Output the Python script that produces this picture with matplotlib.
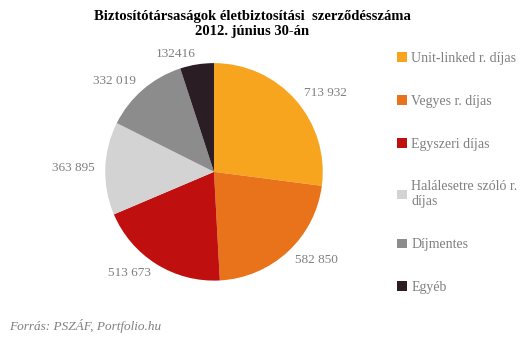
import matplotlib
matplotlib.use("Agg")
from matplotlib import pyplot as plt

categories = ["Unit-linked r. díjas", "Vegyes r. díjas", "Egyszeri díjas",
              "Halálesetre szóló r.\ndíjas", "Díjmentes", "Egyéb"]
values = [713932, 582850, 513673, 363895, 332019, 132416]
value_labels = ["713 932", "582 850", "513 673", "363 895", "332 019", "132416"]
colors = ["#F7A51E", "#E8731A", "#C00F0F", "#D3D3D3", "#8C8C8C", "#2B1D24"]

plt.rcParams['font.family'] = ['Liberation Serif', 'DejaVu Serif']

fig = plt.figure(figsize=(5.31, 3.42), dpi=100)
ax = fig.add_axes([0.147, 0.1, 0.512, 0.795])

wedges, texts = ax.pie(values, labels=value_labels, colors=colors, startangle=90,
                       counterclock=False, labeldistance=1.1,
                       textprops=dict(color="#7F7F7F", fontsize=9.5))
ax.set_aspect("equal")

fig.text(0.475, 0.97, "Biztosítótársaságok életbiztosítási  szerződésszáma\n2012. június 30-án",
         ha="center", va="top", fontsize=10.5, fontweight="bold", linespacing=1.15)

fig.legend(wedges, categories, loc="upper left", bbox_to_anchor=(0.725, 0.885),
           frameon=False, fontsize=10, labelcolor="#7F7F7F",
           handlelength=0.7, handleheight=0.7, handletextpad=0.3,
           labelspacing=2.15)

fig.text(0.018, 0.035, "Forrás: PSZÁF, Portfolio.hu", fontsize=9.5, style="italic",
         color="#7F7F7F")

fig.savefig("out.png", dpi=100)
